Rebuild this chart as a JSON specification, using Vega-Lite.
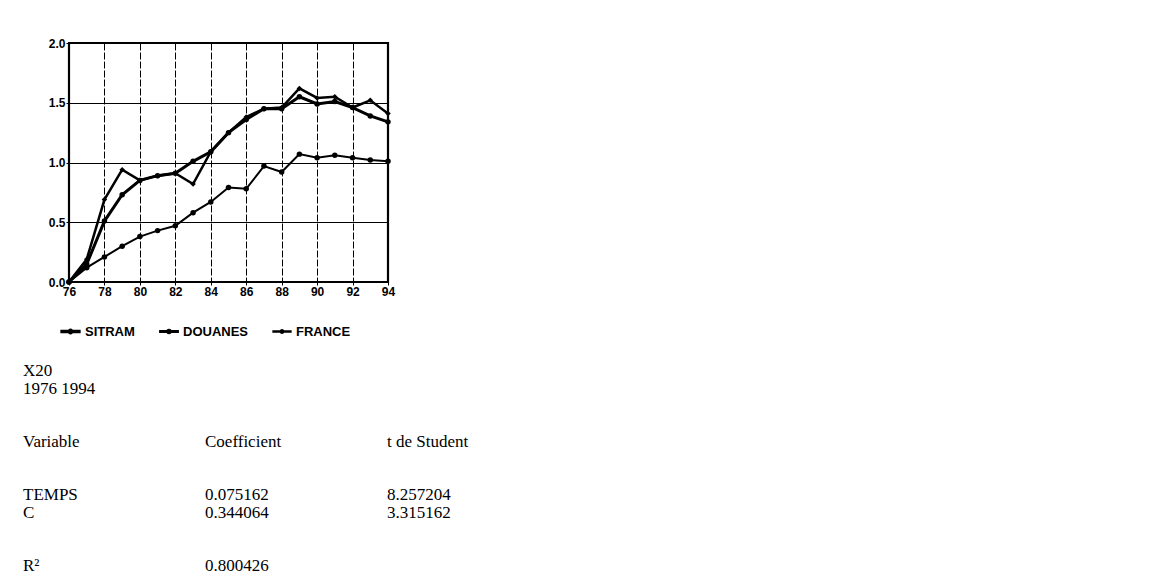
{
  "$schema": "https://vega.github.io/schema/vega-lite/v6.json",
  "padding": {"left": 23, "top": 35, "right": 5, "bottom": 5},
  "background": "white",
  "config": {
    "font": "Liberation Sans"
  },
  "spacing": 63,
  "datasets": {
    "series": [
      {"year": 76, "series": "SITRAM", "v": 0}, {"year": 77, "series": "SITRAM", "v": 0.15}, {"year": 78, "series": "SITRAM", "v": 0.51}, {"year": 79, "series": "SITRAM", "v": 0.73}, {"year": 80, "series": "SITRAM", "v": 0.85}, {"year": 81, "series": "SITRAM", "v": 0.89}, {"year": 82, "series": "SITRAM", "v": 0.91}, {"year": 83, "series": "SITRAM", "v": 1.01}, {"year": 84, "series": "SITRAM", "v": 1.09}, {"year": 85, "series": "SITRAM", "v": 1.25}, {"year": 86, "series": "SITRAM", "v": 1.36}, {"year": 87, "series": "SITRAM", "v": 1.45}, {"year": 88, "series": "SITRAM", "v": 1.45}, {"year": 89, "series": "SITRAM", "v": 1.55}, {"year": 90, "series": "SITRAM", "v": 1.49}, {"year": 91, "series": "SITRAM", "v": 1.51}, {"year": 92, "series": "SITRAM", "v": 1.46}, {"year": 93, "series": "SITRAM", "v": 1.39}, {"year": 94, "series": "SITRAM", "v": 1.34},
      {"year": 76, "series": "DOUANES", "v": 0}, {"year": 77, "series": "DOUANES", "v": 0.19}, {"year": 78, "series": "DOUANES", "v": 0.69}, {"year": 79, "series": "DOUANES", "v": 0.94}, {"year": 80, "series": "DOUANES", "v": 0.85}, {"year": 81, "series": "DOUANES", "v": 0.89}, {"year": 82, "series": "DOUANES", "v": 0.91}, {"year": 83, "series": "DOUANES", "v": 0.82}, {"year": 84, "series": "DOUANES", "v": 1.09}, {"year": 85, "series": "DOUANES", "v": 1.25}, {"year": 86, "series": "DOUANES", "v": 1.38}, {"year": 87, "series": "DOUANES", "v": 1.45}, {"year": 88, "series": "DOUANES", "v": 1.46}, {"year": 89, "series": "DOUANES", "v": 1.62}, {"year": 90, "series": "DOUANES", "v": 1.54}, {"year": 91, "series": "DOUANES", "v": 1.55}, {"year": 92, "series": "DOUANES", "v": 1.46}, {"year": 93, "series": "DOUANES", "v": 1.52}, {"year": 94, "series": "DOUANES", "v": 1.41},
      {"year": 76, "series": "FRANCE", "v": 0}, {"year": 77, "series": "FRANCE", "v": 0.12}, {"year": 78, "series": "FRANCE", "v": 0.21}, {"year": 79, "series": "FRANCE", "v": 0.30}, {"year": 80, "series": "FRANCE", "v": 0.38}, {"year": 81, "series": "FRANCE", "v": 0.43}, {"year": 82, "series": "FRANCE", "v": 0.47}, {"year": 83, "series": "FRANCE", "v": 0.58}, {"year": 84, "series": "FRANCE", "v": 0.67}, {"year": 85, "series": "FRANCE", "v": 0.79}, {"year": 86, "series": "FRANCE", "v": 0.78}, {"year": 87, "series": "FRANCE", "v": 0.97}, {"year": 88, "series": "FRANCE", "v": 0.92}, {"year": 89, "series": "FRANCE", "v": 1.07}, {"year": 90, "series": "FRANCE", "v": 1.04}, {"year": 91, "series": "FRANCE", "v": 1.06}, {"year": 92, "series": "FRANCE", "v": 1.04}, {"year": 93, "series": "FRANCE", "v": 1.02}, {"year": 94, "series": "FRANCE", "v": 1.01}
    ],
    "table": [
      {"line": 0, "col": 0, "t": "X20"},
      {"line": 1, "col": 0, "t": "1976 1994"},
      {"line": 4, "col": 0, "t": "Variable"},
      {"line": 4, "col": 1, "t": "Coefficient"},
      {"line": 4, "col": 2, "t": "t de Student"},
      {"line": 7, "col": 0, "t": "TEMPS"},
      {"line": 7, "col": 1, "t": "0.075162"},
      {"line": 7, "col": 2, "t": "8.257204"},
      {"line": 8, "col": 0, "t": "C"},
      {"line": 8, "col": 1, "t": "0.344064"},
      {"line": 8, "col": 2, "t": "3.315162"},
      {"line": 11, "col": 0, "t": "R²"},
      {"line": 11, "col": 1, "t": "0.800426"}
    ]
  },
  "vconcat": [
    {
      "width": 319,
      "height": 239,
      "view": {"stroke": "black", "strokeWidth": 2.2},
      "data": {"name": "series"},
      "encoding": {
        "x": {
          "field": "year", "type": "quantitative",
          "scale": {"domain": [76, 94], "nice": false, "zero": false},
          "axis": {
            "title": null,
            "values": [76, 78, 80, 82, 84, 86, 88, 90, 92, 94],
            "labelOverlap": false,
            "labelFont": "Liberation Sans", "labelFontWeight": "bold", "labelFontSize": 12, "labelColor": "black",
            "labelPadding": 1, "labelFlush": false,
            "domain": false,
            "tickColor": "black", "tickSize": 3, "tickWidth": 1,
            "grid": true, "gridColor": "black", "gridWidth": 1, "gridDash": [7, 2]
          }
        },
        "y": {
          "field": "v", "type": "quantitative",
          "scale": {"domain": [0, 2], "nice": false},
          "axis": {
            "title": null, "values": [0, 0.5, 1, 1.5, 2], "format": ".1f",
            "labelFont": "Liberation Sans", "labelFontWeight": "bold", "labelFontSize": 12, "labelColor": "black",
            "labelPadding": 1, "labelFlush": false, "labelOverlap": false,
            "domain": false, "tickColor": "black", "tickSize": 3,
            "grid": true, "gridColor": "black", "gridWidth": 1.2
          }
        }
      },
      "layer": [
        {
          "mark": {"type": "line", "strokeJoin": "miter"},
          "encoding": {
            "color": {
              "field": "series", "type": "nominal",
              "scale": {"domain": ["SITRAM", "DOUANES", "FRANCE"], "range": ["black", "black", "black"]},
              "legend": {
                "orient": "none", "legendX": -9, "legendY": 278, "direction": "horizontal", "title": null, "padding": 0,
                "symbolType": "M-1,-0.04H1V0.04H-1Z M-0.17,0A0.17,0.17 0 1,0 0.17,0A0.17,0.17 0 1,0 -0.17,0Z",
                "symbolSize": 300, "symbolStrokeWidth": 0, "symbolFillColor": "black",
                "labelFont": "Liberation Sans", "labelFontWeight": "bold", "labelFontSize": 13, "labelColor": "black",
                "columnPadding": 20, "labelOffset": 4,
                "encode": {"symbols": {"update": {"fill": {"value": "black"}, "fillOpacity": {"value": 1}, "opacity": {"value": 1}, "strokeWidth": {"value": 0}}}}
              }
            },
            "strokeWidth": {
              "field": "series", "type": "nominal",
              "scale": {"domain": ["SITRAM", "DOUANES", "FRANCE"], "range": [3, 2, 2.5]},
              "legend": null
            }
          }
        },
        {
          "transform": [{"filter": "datum.series != 'DOUANES'"}],
          "mark": {"type": "point", "filled": true, "color": "black", "opacity": 1, "shape": "circle", "size": 30}
        },
        {
          "transform": [{"filter": "datum.series == 'DOUANES'"}],
          "mark": {"type": "point", "filled": true, "color": "black", "opacity": 1, "shape": "diamond", "size": 30}
        }
      ]
    },
    {
      "width": 364,
      "height": 195,
      "view": {"stroke": null},
      "data": {"name": "table"},
      "mark": {"type": "text", "align": "left", "baseline": "middle", "font": "Liberation Serif", "fontSize": 17, "color": "black", "dx": -46},
      "encoding": {
        "x": {"field": "col", "type": "quantitative", "scale": {"domain": [0, 2], "nice": false}, "axis": null},
        "y": {"field": "line", "type": "quantitative", "scale": {"domain": [0, 11], "nice": false, "reverse": true}, "axis": null},
        "text": {"field": "t"}
      }
    }
  ]
}
